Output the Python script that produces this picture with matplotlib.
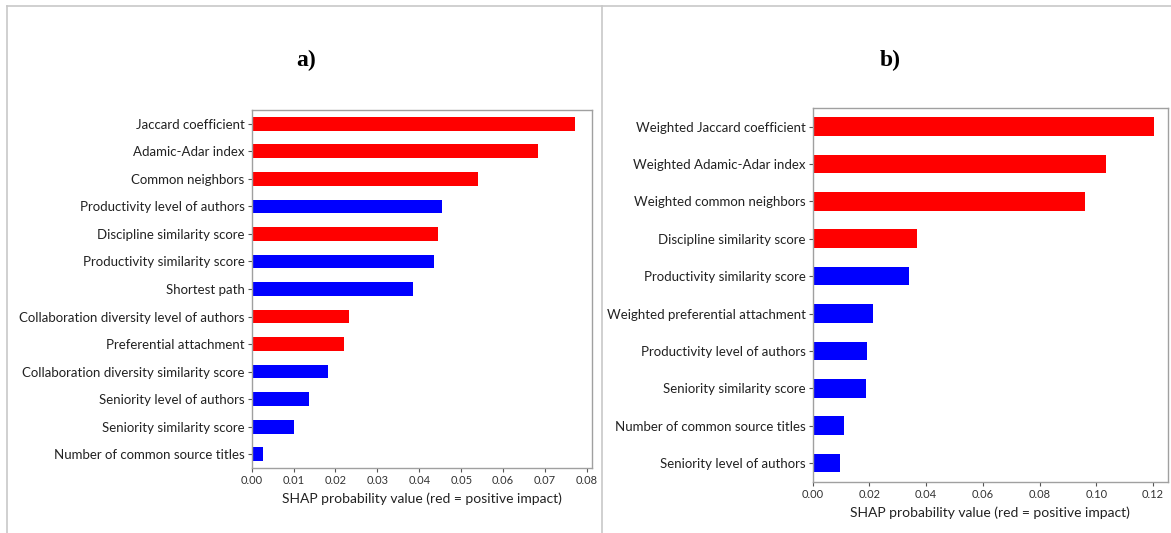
import matplotlib
matplotlib.use('Agg')
import matplotlib.pyplot as plt
from matplotlib.lines import Line2D

plt.rcParams['font.family'] = ['Lato', 'DejaVu Sans']

# panel a) - unweighted features
features_a = [
    'Jaccard coefficient',
    'Adamic-Adar index',
    'Common neighbors',
    'Productivity level of authors',
    'Discipline similarity score',
    'Productivity similarity score',
    'Shortest path',
    'Collaboration diversity level of authors',
    'Preferential attachment',
    'Collaboration diversity similarity score',
    'Seniority level of authors',
    'Seniority similarity score',
    'Number of common source titles',
]
shap_a = [0.0772, 0.0683, 0.0541, 0.0455, 0.0445, 0.0436, 0.0384,
          0.0233, 0.0221, 0.0183, 0.0137, 0.0101, 0.0026]
positive_a = [True, True, True, False, True, False, False,
              True, True, False, False, False, False]

# panel b) - weighted features
features_b = [
    'Weighted Jaccard coefficient',
    'Weighted Adamic-Adar index',
    'Weighted common neighbors',
    'Discipline similarity score',
    'Productivity similarity score',
    'Weighted preferential attachment',
    'Productivity level of authors',
    'Seniority similarity score',
    'Number of common source titles',
    'Seniority level of authors',
]
shap_b = [0.1203, 0.1035, 0.0962, 0.0368, 0.0340, 0.0212,
          0.0191, 0.0187, 0.0111, 0.0095]
positive_b = [True, True, True, True, False, False,
              False, False, False, False]

xticks_a = [0.00, 0.01, 0.02, 0.03, 0.04, 0.05, 0.06, 0.07, 0.08]
xticks_b = [0.00, 0.02, 0.04, 0.06, 0.08, 0.10, 0.12]


def shap_bars(ax, names, values, positive, ticks, xmax):
    n = len(names)
    ypos = list(range(n))[::-1]
    colors = ['red' if p else 'blue' for p in positive]
    ax.barh(ypos, values, height=0.5, color=colors)
    ax.set_ylim(-0.5, n - 0.5)
    ax.set_xlim(0, xmax)
    ax.set_yticks(ypos)
    ax.set_yticklabels(names, fontsize=9.5, color='#222222')
    ax.set_xticks(ticks)
    ax.set_xticklabels(['%.2f' % t for t in ticks], fontsize=8, color='#333333')
    ax.set_xlabel('SHAP probability value (red = positive impact)',
                  fontsize=10, color='#222222', labelpad=5)
    ax.tick_params(axis='both', length=3, width=0.8, color='#555555', pad=2)
    for s in ax.spines.values():
        s.set_color('#a0a0a0')
        s.set_linewidth(1.0)


fig = plt.figure(figsize=(11.71, 5.33), dpi=100)

ax_a = fig.add_axes([0.2149, 0.122, 0.2906, 0.6716])
shap_bars(ax_a, features_a, shap_a, positive_a, xticks_a, 0.0812)

ax_b = fig.add_axes([0.694, 0.0963, 0.3034, 0.7011])
shap_bars(ax_b, features_b, shap_b, positive_b, xticks_b, 0.1253)

# panel letters
fig.text(0.261, 0.887, 'a)', fontsize=17, fontweight='bold',
         family='Liberation Serif', ha='center', va='center')
fig.text(0.760, 0.887, 'b)', fontsize=17, fontweight='bold',
         family='Liberation Serif', ha='center', va='center')

# table-style frame around the two panels
frame = '#c8c8c8'
fig.add_artist(Line2D([0.006, 1.0], [0.989, 0.989], color=frame, lw=1.2))
fig.add_artist(Line2D([0.006, 0.006], [0.0, 0.989], color=frame, lw=1.2))
fig.add_artist(Line2D([0.514, 0.514], [0.0, 0.989], color=frame, lw=1.2))

fig.savefig('out.png', dpi=100)
